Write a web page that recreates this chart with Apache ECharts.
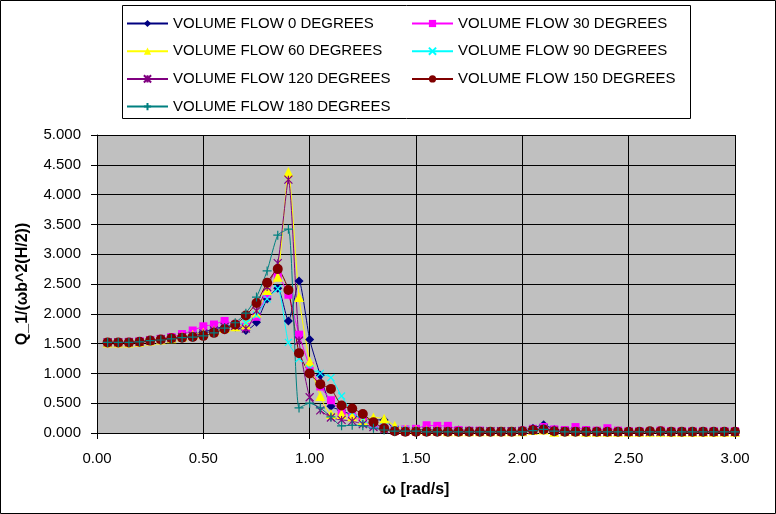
<!DOCTYPE html>
<html>
<head>
<meta charset="utf-8">
<script src="https://cdn.jsdelivr.net/npm/echarts@6/dist/echarts.min.js"></script>
<style>
  html, body { margin: 0; padding: 0; background: #fff; }
  #chart { width: 776px; height: 514px; }
</style>
</head>
<body>
<div id="chart"></div>
<script>
// omega [rad/s]
const omega = [
  0.05, 0.10, 0.15, 0.20, 0.25, 0.30, 0.35, 0.40, 0.45, 0.50,
  0.55, 0.60, 0.65, 0.70, 0.75, 0.80, 0.85, 0.90, 0.95, 1.00,
  1.05, 1.10, 1.15, 1.20, 1.25, 1.30, 1.35, 1.40, 1.45, 1.50,
  1.55, 1.60, 1.65, 1.70, 1.75, 1.80, 1.85, 1.90, 1.95, 2.00,
  2.05, 2.10, 2.15, 2.20, 2.25, 2.30, 2.35, 2.40, 2.45, 2.50,
  2.55, 2.60, 2.65, 2.70, 2.75, 2.80, 2.85, 2.90, 2.95, 3.00
]

const flow0 = [
  1.52, 1.52, 1.52, 1.53, 1.55, 1.57, 1.59, 1.62, 1.65, 1.70,
  1.74, 1.79, 1.78, 1.72, 1.86, 2.25, 2.43, 1.88, 2.55, 1.57,
  0.97, 0.45, 0.38, 0.30, 0.25, 0.22, 0.22, 0.06, 0.04, 0.05,
  0.06, 0.04, 0.04, 0.05, 0.04, 0.03, 0.03, 0.03, 0.03, 0.05,
  0.08, 0.14, 0.06, 0.04, 0.03, 0.03, 0.02, 0.03, 0.02, 0.02,
  0.02, 0.03, 0.02, 0.02, 0.02, 0.02, 0.02, 0.02, 0.02, 0.02
]
const flow30 = [
  1.52, 1.52, 1.53, 1.54, 1.56, 1.58, 1.61, 1.66, 1.72, 1.79,
  1.82, 1.88, 1.82, 1.78, 1.95, 2.33, 2.62, 2.32, 1.65, 1.12,
  0.78, 0.55, 0.36, 0.28, 0.20, 0.13, 0.10, 0.06, 0.06, 0.07,
  0.13, 0.12, 0.12, 0.05, 0.04, 0.04, 0.03, 0.03, 0.03, 0.04,
  0.07, 0.10, 0.06, 0.05, 0.10, 0.05, 0.04, 0.08, 0.04, 0.03,
  0.03, 0.03, 0.04, 0.03, 0.03, 0.03, 0.03, 0.03, 0.03, 0.03
]
const flow60 = [
  1.52, 1.52, 1.52, 1.53, 1.55, 1.57, 1.59, 1.62, 1.65, 1.68,
  1.72, 1.76, 1.79, 1.82, 2.02, 2.40, 2.62, 4.38, 2.28, 1.20,
  0.62, 0.32, 0.32, 0.28, 0.22, 0.26, 0.24, 0.12, 0.06, 0.05,
  0.04, 0.04, 0.03, 0.03, 0.03, 0.03, 0.03, 0.03, 0.03, 0.03,
  0.05, 0.06, 0.02, 0.03, 0.03, 0.02, 0.02, 0.02, 0.02, 0.02,
  0.02, 0.02, 0.02, 0.02, 0.02, 0.02, 0.02, 0.02, 0.02, 0.02
]
const flow90 = [
  1.52, 1.52, 1.52, 1.53, 1.55, 1.57, 1.59, 1.61, 1.64, 1.67,
  1.72, 1.78, 1.82, 1.85, 1.98, 2.25, 2.42, 1.52, 1.25, 1.08,
  1.00, 0.93, 0.62, 0.35, 0.22, 0.14, 0.10, 0.06, 0.05, 0.04,
  0.04, 0.03, 0.03, 0.03, 0.03, 0.03, 0.03, 0.03, 0.03, 0.04,
  0.06, 0.08, 0.04, 0.03, 0.03, 0.02, 0.02, 0.02, 0.02, 0.02,
  0.02, 0.02, 0.02, 0.02, 0.02, 0.02, 0.02, 0.02, 0.02, 0.02
]
const flow120 = [
  1.52, 1.52, 1.52, 1.53, 1.55, 1.57, 1.59, 1.61, 1.63, 1.67,
  1.72, 1.78, 1.80, 1.75, 2.05, 2.45, 2.85, 4.25, 1.55, 0.60,
  0.38, 0.26, 0.22, 0.20, 0.15, 0.10, 0.06, 0.04, 0.03, 0.03,
  0.03, 0.03, 0.03, 0.03, 0.03, 0.03, 0.03, 0.03, 0.03, 0.03,
  0.05, 0.07, 0.04, 0.03, 0.03, 0.03, 0.02, 0.02, 0.02, 0.02,
  0.02, 0.02, 0.02, 0.02, 0.02, 0.02, 0.02, 0.02, 0.02, 0.02
]
const flow150 = [
  1.52, 1.52, 1.52, 1.53, 1.55, 1.57, 1.59, 1.60, 1.61, 1.63,
  1.68, 1.74, 1.82, 1.97, 2.18, 2.52, 2.75, 2.40, 1.34, 1.00,
  0.82, 0.74, 0.46, 0.41, 0.32, 0.18, 0.08, 0.03, 0.02, 0.02,
  0.02, 0.02, 0.02, 0.02, 0.02, 0.02, 0.02, 0.02, 0.02, 0.03,
  0.05, 0.06, 0.03, 0.02, 0.02, 0.02, 0.02, 0.02, 0.02, 0.02,
  0.02, 0.03, 0.03, 0.02, 0.02, 0.02, 0.02, 0.02, 0.02, 0.02
]
const flow180 = [
  1.52, 1.52, 1.52, 1.53, 1.55, 1.56, 1.58, 1.60, 1.61, 1.63,
  1.68, 1.76, 1.85, 2.01, 2.28, 2.72, 3.32, 3.42, 0.42, 0.50,
  0.42, 0.27, 0.12, 0.13, 0.12, 0.08, 0.05, 0.03, 0.03, 0.03,
  0.02, 0.02, 0.02, 0.02, 0.02, 0.02, 0.02, 0.02, 0.02, 0.02,
  0.04, 0.06, 0.03, 0.02, 0.02, 0.02, 0.02, 0.02, 0.02, 0.02,
  0.02, 0.02, 0.02, 0.02, 0.02, 0.02, 0.02, 0.02, 0.02, 0.02
]

const xTicks = ['0.00', '0.50', '1.00', '1.50', '2.00', '2.50', '3.00']
const yTicks = ['0.000', '0.500', '1.000', '1.500', '2.000', '2.500', '3.000', '3.500', '4.000', '4.500', '5.000']

const FONT = 'Arial, "Liberation Sans", sans-serif'

const crossPath = 'path://M0,0L10,10M10,0L0,10'
const starPath = 'path://M0,0L10,10M10,0L0,10M5,0L5,10'
const plusPath = 'path://M5,0L5,10M0,5L10,5'

const defs = [
  { name: 'VOLUME FLOW 0 DEGREES', data: flow0, color: '#000080', symbol: 'diamond', size: 9 },
  { name: 'VOLUME FLOW 30 DEGREES', data: flow30, color: '#ff00ff', symbol: 'rect', size: 8 },
  { name: 'VOLUME FLOW 60 DEGREES', data: flow60, color: '#ffff00', symbol: 'triangle', size: 10 },
  { name: 'VOLUME FLOW 90 DEGREES', data: flow90, color: '#00ffff', symbol: crossPath, size: 7, stroke: true },
  { name: 'VOLUME FLOW 120 DEGREES', data: flow120, color: '#800080', symbol: starPath, size: 8, stroke: true },
  { name: 'VOLUME FLOW 150 DEGREES', data: flow150, color: '#800000', symbol: 'circle', size: 10 },
  { name: 'VOLUME FLOW 180 DEGREES', data: flow180, color: '#008080', symbol: plusPath, size: 9, stroke: true }
]

const series = defs.map(d => ({
  name: d.name,
  type: 'line',
  data: d.data.map((v, i) => [omega[i], v]),
  smooth: 0.2,
  symbol: d.symbol,
  symbolSize: d.size,
  lineStyle: { color: d.color, width: 1 },
  itemStyle: d.stroke
    ? { color: d.color, borderColor: d.color, borderWidth: 1.2 }
    : { color: d.color, borderWidth: 0 },
  emphasis: { disabled: true },
  animation: false
}))

const legendText = { color: '#000', fontSize: 15, fontFamily: FONT }

const chart = echarts.init(document.getElementById('chart'))
chart.setOption({
  animation: false,
  graphic: [
    { type: 'rect', shape: { x: 0.5, y: 0.5, width: 775, height: 513 }, style: { fill: 'none', stroke: '#000', lineWidth: 1 }, silent: true },
    { type: 'rect', shape: { x: 122.5, y: 5.5, width: 568, height: 113 }, style: { fill: '#fff', stroke: '#000', lineWidth: 1 }, silent: true, z: -1 }
  ],
  legend: [
    {
      orient: 'vertical', left: 121, top: 11, itemGap: 12.7, itemWidth: 41, itemHeight: 9,
      data: [defs[0].name, defs[2].name, defs[4].name, defs[6].name],
      textStyle: legendText, selectedMode: false
    },
    {
      orient: 'vertical', left: 406, top: 11, itemGap: 12.7, itemWidth: 41, itemHeight: 9,
      data: [defs[1].name, defs[3].name, defs[5].name],
      textStyle: legendText, selectedMode: false
    }
  ],
  grid: {
    left: 97, right: 41, top: 135, bottom: 81,
    show: true, backgroundColor: '#c0c0c0', borderWidth: 0
  },
  xAxis: {
    type: 'value', min: 0, max: 3, interval: 0.5,
    name: 'ω [rad/s]', nameLocation: 'middle', nameGap: 49,
    nameTextStyle: { color: '#000', fontSize: 16, fontWeight: 'bold', fontFamily: FONT },
    axisLine: { lineStyle: { color: '#000', width: 1 } },
    axisTick: { show: true, length: 6, lineStyle: { color: '#000' } },
    axisLabel: { color: '#000', fontSize: 15, fontFamily: FONT, margin: 18, formatter: v => xTicks[Math.round(v / 0.5)] },
    splitLine: { show: true, lineStyle: { color: '#000', width: 1 } }
  },
  yAxis: {
    type: 'value', min: 0, max: 5, interval: 0.5,
    name: 'Q_1/(ωb^2(H/2))', nameLocation: 'middle', nameGap: 66,
    nameTextStyle: { color: '#000', fontSize: 16, fontWeight: 'bold', fontFamily: FONT },
    axisLine: { show: true, lineStyle: { color: '#000', width: 1 } },
    axisTick: { show: true, length: 6, lineStyle: { color: '#000' } },
    axisLabel: { color: '#000', fontSize: 15, fontFamily: FONT, margin: 16, formatter: v => yTicks[Math.round(v / 0.5)] },
    splitLine: { show: true, lineStyle: { color: '#000', width: 1 } }
  },
  series
})
</script>
</body>
</html>
